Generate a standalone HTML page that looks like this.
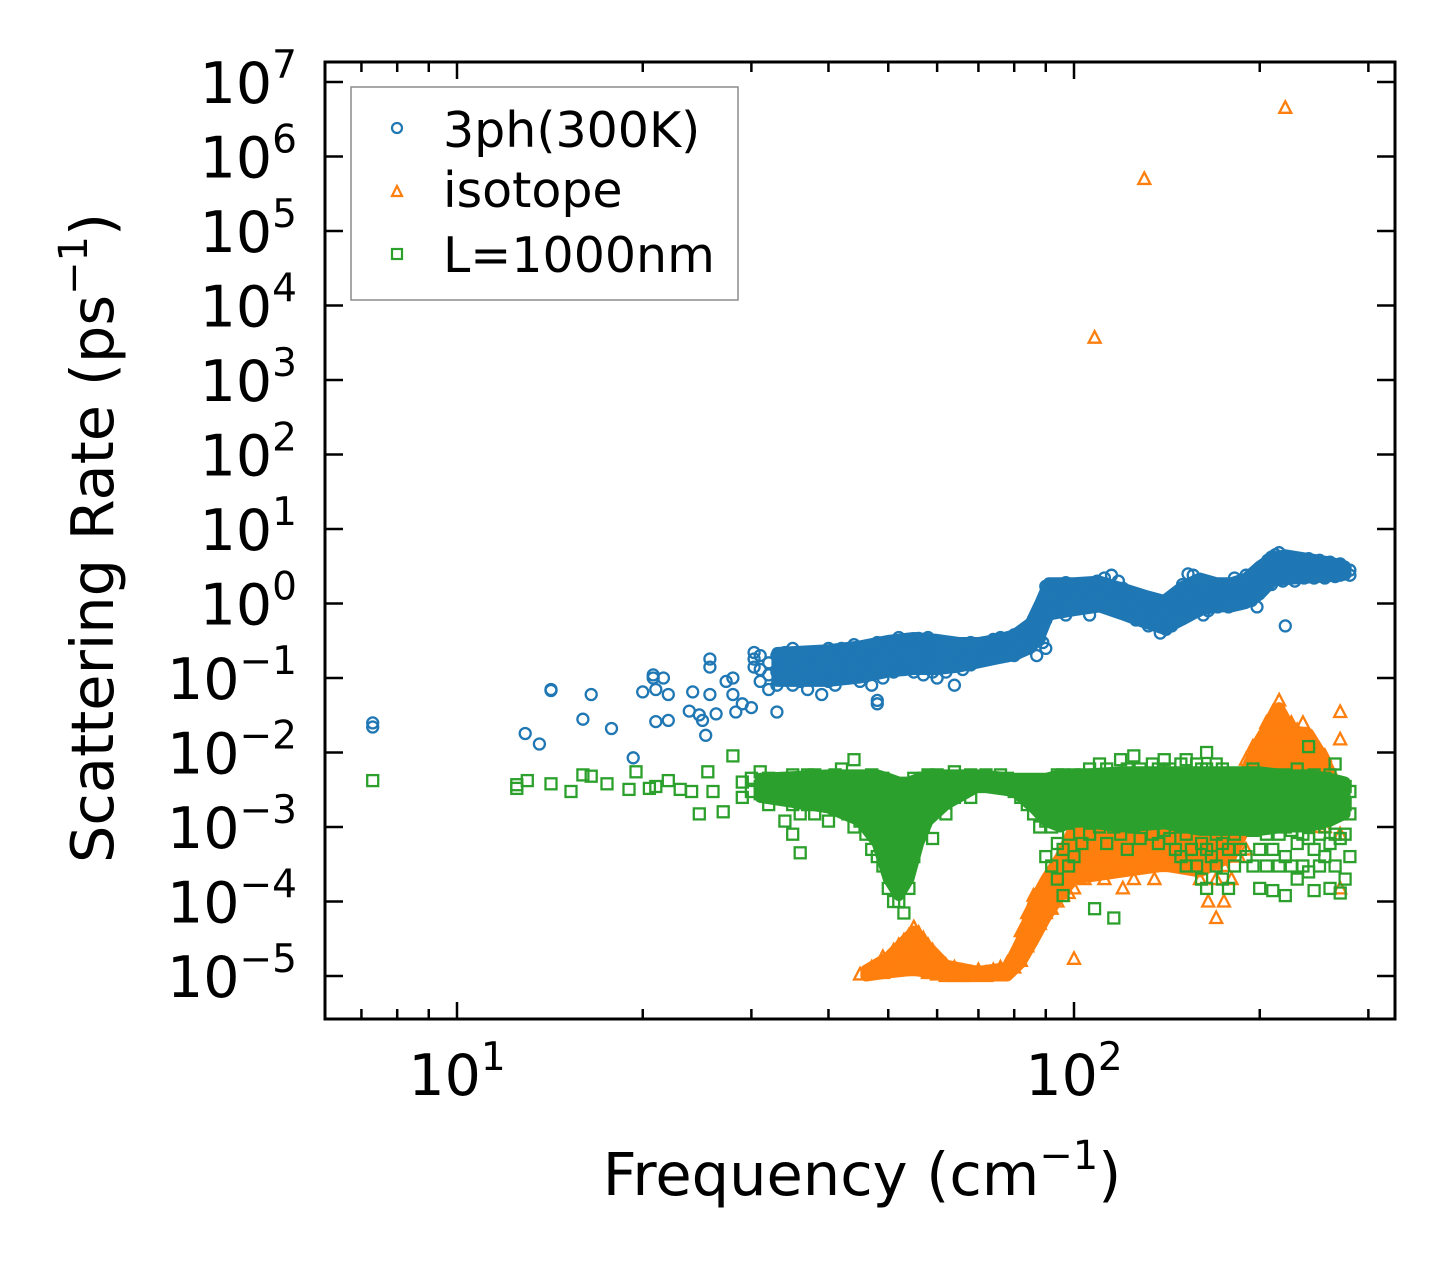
<!DOCTYPE html>
<html><head><meta charset="utf-8">
<style>
html,body{margin:0;padding:0;background:#fff;}
svg{display:block;font-family:"DejaVu Sans","Liberation Sans",sans-serif;}
</style></head>
<body>
<svg id="chart" width="1455" height="1268" viewBox="0 0 1455 1268" xmlns="http://www.w3.org/2000/svg">
<rect x="0" y="0" width="1455" height="1268" fill="#fff"/>
<g id="bands"></g>
<g id="marks"></g>
<g id="axes"></g>
<text x="862" y="1195" font-size="59" text-anchor="middle">Frequency (cm<tspan font-size="40" dy="-26">−1</tspan><tspan dy="26">)</tspan></text>
<text transform="translate(113,538) rotate(-90)" font-size="59" text-anchor="middle">Scattering Rate (ps<tspan font-size="40" dy="-26">−1</tspan><tspan dy="26">)</tspan></text>
<g>
<rect x="351" y="87" width="387" height="213" fill="#fff" stroke="#8c8c8c" stroke-width="1.5"/>
<circle cx="397" cy="128" r="5" fill="none" stroke="#1f77b4" stroke-width="2.2"/>
<text x="443" y="147" font-size="49">3ph(300K)</text>
<polygon points="397,186 402,196 392,196" fill="none" stroke="#ff7f0e" stroke-width="2.2"/>
<text x="443" y="207" font-size="49">isotope</text>
<rect x="392" y="249" width="10" height="10" fill="none" stroke="#2ca02c" stroke-width="2.2"/>
<text x="443" y="272" font-size="49">L=1000nm</text>
</g>
</svg>
<script>
// ---- data ----
const blueFreq=[7.3,12.9,13.6,14.2,16,16.5,17.8,19.3,20,20.8,21,21.6,22,23.8,24.1,24.7,25,25.3,25.7,26.3,27.3,28,28.3,29,30,30.3,31,32,33,34,35,36,37,38,39,40,41,42,43,44,45,46,47,48,49,50,51,52,53,54,55,56,57,58,59,60,62,64,66,68,70,72,74,76,78,80,82,84,86,87,88,89,90,91,93,95,97,100,103,106,109,112,115,118,120,123,126,129,132,135,138,141,144,147,150,153,156,159,162,165,168,171,175,178,182,186,190,194,198,200,203,206,209,212,215,218,220,224,228,232,236,240,245,250,255,260,265,270,275,280];
const blueRate=[[0.025,0.022],[0.018],[0.013],[0.07,0.068],[0.028],[0.06],[0.021],[0.0085],[0.065],[0.11,0.1],[0.07,0.026],[0.1],[0.06,0.027],[0.036],[0.065],[0.032],[0.027],[0.017],[0.18,0.14,0.06],[0.033],[0.09],[0.1,0.06],[0.035],[0.045],[0.04],[0.22,0.18,0.14],[0.09,0.13,0.2],[0.07,0.11,0.16],[0.08,0.12,0.2,0.035],[0.1,0.15,0.22],[0.08,0.13,0.25],[0.09,0.14,0.2],[0.07,0.12,0.18],[0.1,0.16,0.22],[0.06,0.11,0.2],[0.09,0.15,0.25],[0.08,0.13,0.19],[0.11,0.17,0.25],[0.1,0.14,0.22],[0.12,0.18,0.28],[0.09,0.15,0.2],[0.11,0.16,0.26],[0.08,0.14,0.22],[0.045,0.05,0.12,0.19,0.3],[0.1,0.17,0.27],[0.13,0.2,0.3],[0.12,0.18,0.28],[0.15,0.22,0.35],[0.13,0.2,0.32],[0.14,0.24,0.33],[0.12,0.19,0.3],[0.15,0.23,0.34],[0.11,0.18,0.3],[0.14,0.22,0.35],[0.12,0.2,0.28],[0.1,0.17,0.3],[0.12,0.2,0.28],[0.08,0.15,0.22],[0.13,0.19,0.26],[0.15,0.22,0.3],[0.17,0.22,0.28],[0.18,0.24,0.3],[0.2,0.25,0.33],[0.2,0.27,0.35],[0.22,0.28,0.33],[0.2,0.28,0.38],[0.23,0.3,0.4],[0.25,0.35,0.45],[0.3,0.45,0.6],[0.2,0.5,0.7],[0.35,0.6,0.9],[0.3,0.5,0.8,1.1],[0.25,0.6,1.0,1.7],[0.7,1.0,1.8],[0.9,1.3,1.8],[0.8,1.2,1.7],[0.7,1.1,1.6,1.9],[0.9,1.3,1.8],[1.0,1.4,1.7],[0.7,1.1,1.6],[1.0,1.5,2.0],[1.1,1.6,2.2],[1.2,1.7,2.4],[0.9,1.4,2.0],[0.8,1.2,1.6],[0.7,1.0,1.4],[0.6,0.9,1.3],[0.6,0.85,1.2],[0.5,0.8,1.1],[0.55,0.75,1.1],[0.4,0.65,1.0],[0.45,0.7,1.1],[0.5,0.8,1.2],[0.6,0.9,1.4],[0.8,1.2,1.8],[1.0,1.6,2.5],[0.9,1.5,2.4],[0.8,1.3,2.0],[0.7,1.1,1.6],[0.8,1.2,1.7],[0.9,1.2,1.5],[0.9,1.3,1.8],[1.0,1.3,1.7],[0.9,1.2,1.6],[1.1,1.5,2.2],[1.0,1.4,2.0],[1.2,1.6,2.4],[1.1,1.5,2.0],[0.9,1.4,2.2],[1.5,2.0,2.8],[1.8,2.5,3.2],[2.0,2.8,3.8],[1.8,3.0,4.2],[2.2,3.2,4.5],[2.3,3.5,4.8],[2.0,3.0,4.0],[0.5,2.5,3.6],[2.2,3.0,4.2],[2.0,2.8,3.8],[2.4,3.2,4.0],[2.2,3.0,3.6],[2.5,3.2,4.0],[2.2,2.8,3.5],[2.4,3.0,3.8],[2.2,2.8,3.4],[2.5,3.0,3.6],[2.3,2.8,3.3],[2.4,2.9,3.4],[2.5,3.0],[2.4,2.8]];
const blueBandFreq=[33,40,45,50,55,60,65,70,75,80,85,88,91,100,110,120,130,140,150,160,170,180,190,200,210,220,240,260,275];
const blueBandLow=[0.09,0.09,0.1,0.12,0.13,0.13,0.14,0.16,0.18,0.2,0.25,0.35,0.7,0.8,0.9,0.7,0.55,0.45,0.6,0.8,0.9,0.9,1.0,1.3,2.0,2.1,2.2,2.3,2.4];
const blueBandHigh=[0.22,0.24,0.27,0.32,0.35,0.33,0.3,0.3,0.33,0.38,0.55,1.0,1.9,1.9,2.0,1.6,1.3,1.1,1.7,2.2,1.9,1.9,2.2,3.2,4.2,4.5,4.0,3.6,3.2];

const isoFreq=[108,130,220,45,47,49,51,52,53,54,55,56,57,58,59,60,62,64,66,68,70,72,74,76,78,80,82,84,86,88,90,92,94,96,98,100,104,108,112,116,120,125,130,135,140,145,150,155,160,165,170,175,180,185,190,195,200,205,210,215,220,225,230,235,240,245,250,255,260,270];
const isoRate=[[3700],[5e5],[4.5e6],[1.05e-5],[1.1e-5,1.3e-5],[1.1e-5,1.5e-5,1.8e-5],[1.2e-5,1.6e-5,2.2e-5],[1.2e-5,1.8e-5,2.6e-5],[1.3e-5,2e-5,3e-5],[1.3e-5,2.2e-5,3.5e-5],[1.2e-5,2e-5,3.2e-5,4.5e-5],[1.3e-5,2.5e-5,3.8e-5],[1.2e-5,2e-5,3.2e-5],[1.1e-5,1.7e-5,2.6e-5],[1.1e-5,1.5e-5,2.2e-5],[1.05e-5,1.3e-5,1.7e-5],[1e-5,1.2e-5,1.4e-5],[1e-5,1.1e-5,1.3e-5],[1e-5,1.15e-5],[1e-5,1.1e-5],[1.05e-5,1.2e-5],[1e-5,1.1e-5],[1.05e-5,1.2e-5],[1.1e-5,1.3e-5],[1.2e-5,1.5e-5],[1.3e-5,1.8e-5],[1.6e-5,2.5e-5,4e-5],[2.5e-5,4e-5,7e-5],[4e-5,7e-5,1.2e-4],[5e-5,9e-5,1.5e-4],[7e-5,1.2e-4,2e-4],[8e-5,1.5e-4,2.5e-4],[1e-4,1.8e-4,3e-4],[1.2e-4,2e-4,3.5e-4],[1.3e-4,2.5e-4,4e-4],[1.7e-5,1.5e-4,3e-4,5e-4],[2e-4,4e-4,7e-4],[2.5e-4,5e-4,9e-4],[2e-4,4e-4,8e-4,1.2e-3],[3e-4,6e-4,1e-3],[1.5e-4,3e-4,7e-4,1.2e-3],[2e-4,5e-4,1e-3],[3e-4,6e-4,1.2e-3],[2e-4,4e-4,8e-4],[3e-4,7e-4,1.5e-3],[4e-4,8e-4,1.5e-3],[3e-4,6e-4,1.2e-3],[4e-4,9e-4,1.8e-3],[2e-4,5e-4,1e-3],[1e-4,3e-4,7e-4],[6e-5,2e-4,5e-4,1e-3],[1e-4,3e-4,8e-4,1.5e-3],[2e-4,5e-4,1.2e-3,2.5e-3],[4e-4,1e-3,2.5e-3,5e-3],[5e-4,1.5e-3,4e-3,8e-3],[1e-3,3e-3,7e-3,1.2e-2],[1e-3,3e-3,8e-3,1.5e-2],[2e-3,5e-3,1.2e-2,2.5e-2],[2e-3,6e-3,1.5e-2,3.5e-2],[2e-3,7e-3,2e-2,5e-2],[2e-3,6e-3,1.5e-2,3e-2],[2e-3,5e-3,1.2e-2,2.5e-2],[2e-3,5e-3,1e-2,2e-2],[1.5e-3,4e-3,1e-2,2.5e-2],[1.5e-3,4e-3,8e-3,1.5e-2],[1e-3,3e-3,7e-3,1.2e-2],[1e-3,3e-3,6e-3,1e-2],[1e-3,2.5e-3,5e-3,9e-3],[1.5e-3,3e-3,6e-3],[0.035,0.015,8e-4,1.5e-4,2e-3]];
const isoBandFreq=[46,50,55,58,62,70,78,82,86,90,95,100,120,140,160,180,190,200,215,225,240,255,265];
const isoBandLow=[1e-5,1.1e-5,1.2e-5,1.1e-5,1e-5,1e-5,1e-5,1.5e-5,3e-5,6e-5,1.2e-4,2e-4,2.5e-4,3e-4,2.5e-4,4e-4,1e-3,2e-3,2e-3,2e-3,2e-3,2e-3,2e-3];
const isoBandHigh=[1.2e-5,1.8e-5,4e-5,2.5e-5,1.4e-5,1.15e-5,1.3e-5,3e-5,1e-4,2e-4,4e-4,1e-3,1.2e-3,1.5e-3,1.5e-3,3e-3,6e-3,1.5e-2,4e-2,2e-2,1.8e-2,8e-3,4e-3];

const bdFreq=[7.3,12.5,13,14.2,15.3,16,16.5,17.5,19,19.5,20.5,21,22,23,24,24.7,25.5,26,27,28,29,30,31,32,33,34,35,36,37,38,39,40,41,42,43,44,45,46,47,48,49,50,51,52,53,54,55,56,57,58,59,60,62,64,66,68,70,72,74,76,78,80,82,84,86,88,90,92,94,96,98,100,103,106,108,110,113,116,119,122,125,128,131,134,137,140,143,146,149,152,155,158,161,164,167,170,174,178,182,186,190,195,200,205,210,215,220,225,230,235,240,245,250,255,260,265,270,275,280];
const bdRate=[[0.0042],[0.0033,0.0037],[0.0042],[0.0038],[0.003],[0.005],[0.0048],[0.0038],[0.0032],[0.0055],[0.0033],[0.0035],[0.0042],[0.0032],[0.003],[0.0015],[0.0055],[0.003],[0.0016],[0.009],[0.0025,0.004],[0.003,0.0045],[0.0028,0.0035,0.0055],[0.002,0.003,0.0045],[0.0025,0.004],[0.0012,0.0025,0.004],[0.0008,0.002,0.003,0.005],[0.00045,0.0015,0.003,0.0045],[0.002,0.0035,0.005],[0.0015,0.003,0.005],[0.002,0.003,0.0045],[0.0012,0.0025,0.004],[0.0018,0.003,0.005],[0.002,0.0035,0.006],[0.0015,0.0028,0.0045],[0.001,0.0025,0.004,0.008],[0.0012,0.0025,0.0045],[0.0008,0.002,0.0035],[0.0005,0.0015,0.003,0.005],[0.0004,0.001,0.0025,0.004],[0.0003,0.0008,0.002,0.0045],[0.00015,0.0004,0.001,0.002,0.004],[0.0001,0.0003,0.0008,0.002,0.0035],[0.0001,0.00025,0.0006,0.0015,0.003],[0.00007,0.0003,0.0007,0.0018,0.0035],[0.00015,0.0005,0.0012,0.003],[0.0004,0.001,0.0025,0.0045],[0.0008,0.002,0.004],[0.001,0.0025,0.0045],[0.0015,0.003,0.005],[0.0007,0.002,0.0035],[0.002,0.0035,0.005],[0.0015,0.003,0.0045],[0.0025,0.004,0.0055],[0.003,0.0045],[0.0025,0.004,0.005],[0.0035,0.0045],[0.004,0.005],[0.0035,0.0045],[0.004,0.005],[0.0035,0.0045],[0.003,0.004],[0.0025,0.0035],[0.002,0.003],[0.0015,0.0025,0.004],[0.001,0.002,0.0035],[0.0004,0.0012,0.0025,0.004],[0.0003,0.001,0.002,0.004],[0.0002,0.0006,0.0015,0.003,0.005],[0.00012,0.0005,0.0015,0.003,0.005],[0.0003,0.0008,0.002,0.004],[0.0004,0.0012,0.0025,0.005],[0.0006,0.0015,0.003,0.005],[0.0008,0.002,0.0035,0.006],[0.00008,0.0012,0.0025,0.005],[0.001,0.002,0.004,0.007],[0.0006,0.0015,0.003,0.006],[0.00006,0.001,0.0025,0.005],[0.0008,0.002,0.004,0.008],[0.0005,0.0015,0.003,0.006],[0.001,0.002,0.0045,0.009],[0.0007,0.0018,0.0035,0.006],[0.0012,0.0025,0.005],[0.0008,0.002,0.004,0.007],[0.0006,0.0015,0.003,0.006],[0.0009,0.002,0.004,0.008],[0.0007,0.0015,0.003,0.006],[0.0005,0.0012,0.0025,0.005],[0.0004,0.001,0.002,0.004,0.007],[0.0003,0.0008,0.002,0.004,0.008],[0.0005,0.0012,0.0025,0.005],[0.0003,0.001,0.002,0.004,0.007],[0.0002,0.0006,0.0015,0.003,0.006],[0.00015,0.0005,0.0015,0.003,0.006,0.01],[0.0004,0.001,0.0025,0.005],[0.0003,0.0008,0.002,0.004,0.007],[0.0002,0.0006,0.0018,0.0035,0.006],[0.00015,0.0005,0.0015,0.003,0.005],[0.0003,0.0008,0.002,0.004],[0.0005,0.0012,0.0025,0.005],[0.0004,0.001,0.002,0.004],[0.0003,0.0009,0.002,0.004,0.006],[0.00015,0.0005,0.0012,0.0025,0.005],[0.0003,0.0008,0.002,0.004],[0.00014,0.0005,0.0012,0.0025,0.005],[0.0003,0.0008,0.002,0.004],[0.00012,0.0004,0.001,0.0025,0.005],[0.0003,0.0009,0.002,0.004],[0.0002,0.0006,0.0015,0.003,0.006],[0.0003,0.0008,0.002,0.004],[0.00025,0.0007,0.0018,0.004,0.012],[0.00014,0.0005,0.0012,0.0025,0.005],[0.0003,0.0008,0.002,0.004],[0.0004,0.001,0.0022,0.0045],[0.00015,0.0006,0.0015,0.003,0.005],[0.0003,0.0008,0.002,0.004,0.007],[0.00013,0.0007,0.0015,0.003],[0.0002,0.0008,0.002,0.0035],[0.0004,0.0015,0.003]];
const bdBandFreq=[31,40,45,48,50,52,54,56,58,62,70,80,86,90,95,100,120,140,160,180,200,220,240,260,275];
const bdBandLow=[0.0025,0.0018,0.0012,0.0006,0.0002,0.00012,0.0002,0.0006,0.0012,0.002,0.0035,0.003,0.0018,0.0012,0.001,0.0012,0.001,0.0011,0.0009,0.0009,0.0009,0.001,0.001,0.0012,0.0015];
const bdBandHigh=[0.0045,0.005,0.005,0.005,0.0045,0.004,0.004,0.0045,0.005,0.005,0.005,0.0045,0.0045,0.0045,0.005,0.005,0.0055,0.0055,0.0055,0.0055,0.0055,0.005,0.005,0.0045,0.004];

const xTickExps=[1,2];
const yTickExps=[7,6,5,4,3,2,1,0,-1,-2,-3,-4,-5];

// ---- axes ----
const L=325,R=1395,T=62,B=1019;
const x10=457,decX=617,y0=603.5,decY=74.5;
function xs(f){return x10+(Math.log10(f)-1)*decX;}
function ys(v){return y0-Math.log10(v)*decY;}
const NS="http://www.w3.org/2000/svg";
function mk(tag,attrs,parent){const e=document.createElementNS(NS,tag);for(const k in attrs)e.setAttribute(k,attrs[k]);parent.appendChild(e);return e;}
const bands=document.getElementById('bands'),marks=document.getElementById('marks'),axes=document.getElementById('axes');

function band(freq,low,high,color,name){
  const pts=[];
  for(let i=0;i<freq.length;i++)pts.push(xs(freq[i]).toFixed(1)+','+ys(high[i]).toFixed(1));
  for(let i=freq.length-1;i>=0;i--)pts.push(xs(freq[i]).toFixed(1)+','+ys(low[i]).toFixed(1));
  const p=mk('polygon',{points:pts.join(' '),fill:color,stroke:color,'stroke-width':11,'stroke-linejoin':'round'},marks);
  
  
}
function scatter(freq,rates,kind,color,name){
  const g=mk('g',{fill:'none',stroke:color,'stroke-width':2.3},marks);
  
  
  for(let i=0;i<freq.length;i++){
    const cx=xs(freq[i]);
    for(const v of rates[i]){
      const cy=ys(v);let e;
      if(kind==='c')e=mk('circle',{cx:cx.toFixed(1),cy:cy.toFixed(1),r:5.5},g);
      else if(kind==='t')e=mk('polygon',{points:`${cx},${cy-6.5} ${cx+6},${cy+5} ${cx-6},${cy+5}`},g);
      else e=mk('rect',{x:(cx-5.5).toFixed(1),y:(cy-5.5).toFixed(1),width:11,height:11},g);
      
      
    }
  }
}
band(blueBandFreq,blueBandLow,blueBandHigh,'#1f77b4','3ph-dense-band');
scatter(blueFreq,blueRate,'c','#1f77b4','3ph-series');
band(isoBandFreq,isoBandLow,isoBandHigh,'#ff7f0e','isotope-dense-band');
scatter(isoFreq,isoRate,'t','#ff7f0e','isotope-series');
band(bdBandFreq,bdBandLow,bdBandHigh,'#2ca02c','boundary-dense-band');
scatter(bdFreq,bdRate,'s','#2ca02c','boundary-series');

// frame
const fr=mk('rect',{x:L,y:T,width:R-L,height:B-T,fill:'none',stroke:'#000','stroke-width':3},axes);


// x ticks
for(let d=0;d<=2;d++){
  for(let m=1;m<=9;m++){
    const f=m*Math.pow(10,d);const x=xs(f);
    if(x<L||x>R)continue;
    const len=m===1?17:10;
    const t1=mk('line',{x1:x,x2:x,y1:B,y2:B-len,stroke:'#000','stroke-width':2.5},axes);
    
    
    const t2=mk('line',{x1:x,x2:x,y1:T,y2:T+len,stroke:'#000','stroke-width':2.5},axes);
    
    
  }
}
for(const e of xTickExps){
  const t=mk('text',{x:xs(Math.pow(10,e)),y:1095,'font-size':57,'text-anchor':'middle'},axes);
  
  
  t.innerHTML='10<tspan font-size="39" dy="-25">'+e+'</tspan>';
}
// y ticks
for(const e of yTickExps){
  const y=ys(Math.pow(10,e));
  const t1=mk('line',{x1:L,x2:L+18,y1:y,y2:y,stroke:'#000','stroke-width':2.5},axes);
  
  
  const t2=mk('line',{x1:R,x2:R-18,y1:y,y2:y,stroke:'#000','stroke-width':2.5},axes);
  
  
  const t=mk('text',{x:297,y:y+21,'font-size':57,'text-anchor':'end'},axes);
  
  
  t.innerHTML='10<tspan font-size="39" dy="-25">'+(e<0?'−'+(-e):e)+'</tspan>';
}
</script>
</body></html>
